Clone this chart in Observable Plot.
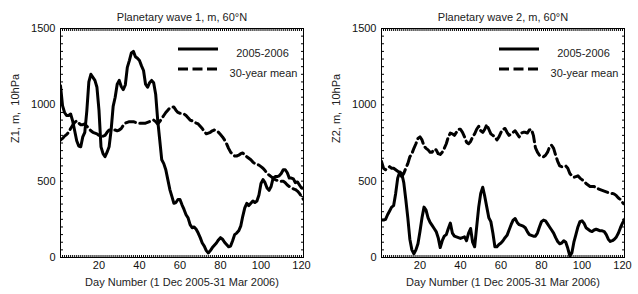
<!DOCTYPE html>
<html><head><meta charset="utf-8">
<script src="https://cdn.jsdelivr.net/npm/d3@7"></script>
<script src="https://cdn.jsdelivr.net/npm/@observablehq/plot@0.6"></script>
<style>
body{margin:0;background:#fff}
#row{display:flex;width:638px;height:294px;overflow:hidden}
</style>
</head><body><div id="row"></div>
<script>
// Day numbers 1 Dec 2005 (day 1) .. 31 Mar 2006 (day 121)
const days = d3.range(1, 122);

const wave1Actual = [
1125, 995, 950, 930, 930, 940, 895, 830, 765, 730,
725, 790, 820, 960, 1150, 1200, 1180, 1160, 1115, 965,
725, 680, 660, 690, 725, 835, 990, 1050, 1135, 1160,
1120, 1100, 1130, 1245, 1290, 1340, 1350, 1315, 1305, 1290,
1255, 1225, 1135, 1115, 1145, 1160, 1145, 1070, 900, 770,
640, 615, 575, 510, 445, 400, 355, 360, 380, 380,
345, 315, 280, 260, 215, 195, 200, 185, 160, 130,
95, 75, 45, 30, 45, 65, 80, 95, 115, 130,
120, 100, 85, 70, 75, 110, 150, 160, 175, 205,
270, 325, 355, 340, 355, 370, 360, 370, 410, 485,
510, 490, 455, 440, 465, 520, 530, 530, 535, 550,
575, 575, 555, 520, 520, 515, 490, 495, 475, 455,
455];

const wave1Mean = [
770, 780, 795, 805, 820, 845, 865, 885, 895, 880,
870, 870, 875, 860, 845, 830, 820, 815, 810, 800,
800, 795, 800, 820, 835, 835, 835, 835, 830, 835,
845, 865, 880, 885, 890, 890, 890, 885, 880, 880,
880, 880, 880, 885, 890, 895, 900, 890, 875, 890,
910, 930, 950, 965, 980, 985, 985, 965, 950, 945,
945, 940, 930, 915, 900, 895, 890, 880, 875, 860,
845, 825, 810, 815, 820, 830, 835, 830, 820, 805,
790, 770, 745, 715, 690, 675, 665, 665, 670, 680,
685, 670, 660, 650, 640, 625, 615, 610, 605, 595,
585, 570, 550, 540, 530, 520, 510, 505, 500, 500,
500, 490, 475, 465, 455, 450, 445, 435, 420, 400,
380];

const wave2Actual = [
245, 245, 250, 280, 305, 330, 340, 420, 520, 560,
550, 490, 380, 260, 120, 50, 25, 50, 90, 170,
260, 330, 310, 260, 230, 210, 190, 170, 130, 65,
110, 140, 150, 190, 225, 160, 140, 135, 130, 125,
130, 135, 110, 160, 190, 100, 70, 200, 330, 420,
460, 400, 330, 260, 235, 160, 70, 70, 85, 95,
110, 130, 145, 180, 215, 245, 255, 230, 215, 210,
205, 195, 170, 150, 145, 140, 140, 160, 200, 235,
245, 240, 220, 200, 180, 160, 130, 105, 90, 95,
110, 100, 60, 10, 30, 100, 150, 200, 235, 240,
225, 195, 185, 175, 170, 180, 185, 180, 175, 175,
170, 150, 120, 105, 110, 120, 135, 160, 195, 225,
250];

const wave2Mean = [
630, 585, 575, 585, 595, 585, 585, 575, 565, 550,
530, 550, 585, 615, 660, 680, 715, 745, 780, 790,
770, 730, 715, 705, 690, 690, 710, 705, 680, 675,
690, 715, 745, 790, 815, 810, 800, 820, 840, 840,
820, 790, 755, 745, 760, 790, 810, 840, 860, 830,
820, 840, 870, 840, 810, 800, 790, 770, 790, 820,
840, 845, 820, 800, 810, 820, 830, 810, 790, 815,
820, 820, 815, 835, 840, 800, 720, 690, 670, 660,
660, 670, 690, 725, 735, 715, 670, 630, 600, 595,
595, 600, 585, 550, 535, 525, 530, 535, 520, 510,
500, 485, 475, 465, 465, 465, 455, 450, 445, 440,
435, 430, 425, 420, 420, 415, 405, 390, 380, 360,
350];

const seriesNames = ["2005-2006", "30-year mean"];
const xTickLabels = [20, 40, 60, 80, 100, 120];
const yTickLabels = [0, 500, 1000, 1500];
const yMinorTicks = d3.range(0, 1501, 50);
const xLabel = "Day Number (1 Dec 2005-31 Mar 2006)";
const panelTitles = ["Planetary wave 1, m, 60°N", "Planetary wave 2, m, 60°N"];
const yLabels = ["Z1, m,\u00a0 10hPa", "Z2, m,\u00a0 10hPa"];

const FONT = "'Liberation Sans', Arial, Helvetica, sans-serif";
const W = 319, H = 294, MT = 28, MB = 37;

function panel(title, ylabel, actual, mean, marginLeft, marginRight) {
  const rows = days.map((d, i) => ({day: d, actual: actual[i], mean: mean[i]}));
  const svg = Plot.plot({
    width: W, height: H, marginTop: MT, marginBottom: MB, marginLeft, marginRight,
    x: {domain: [1, 121]},
    y: {domain: [0, 1500]},
    style: {fontFamily: FONT, fontSize: "11px", background: "#fff", color: "#000", overflow: "visible"},
    marks: [
      Plot.axisX({anchor: "bottom", ticks: days, tickSize: -2, fill: "none", label: null}),
      Plot.axisX({anchor: "top", ticks: days, tickSize: -2, fill: "none", label: null}),
      Plot.axisY({anchor: "left", ticks: yMinorTicks, tickSize: -3, fill: "none", label: null}),
      Plot.axisY({anchor: "right", ticks: yMinorTicks, tickSize: -3, fill: "none", label: null}),
      Plot.axisX({anchor: "bottom", ticks: xTickLabels, tickFormat: d3.format("d"), tickSize: 0, tickPadding: 4, label: null, fill: "#111"}),
      Plot.axisY({anchor: "left", ticks: yTickLabels, tickFormat: d3.format("d"), tickSize: 0, tickPadding: 5, label: null, fill: "#111"}),
      Plot.line(rows, {x: "day", y: "mean", stroke: "#000", strokeWidth: 3, strokeDasharray: "10,4.5", clip: true}),
      Plot.line(rows, {x: "day", y: "actual", stroke: "#000", strokeWidth: 3, strokeLinejoin: "round", clip: true}),
      Plot.frame({stroke: "#000", strokeWidth: 1}),
      Plot.text([title], {text: d => d, frameAnchor: "top", dy: -15, fill: "#222"}),
      Plot.text([ylabel], {text: d => d, frameAnchor: "left", dx: -45, rotate: -90, fill: "#222"}),
      Plot.text([xLabel], {text: d => d, frameAnchor: "bottom", dy: 28, fill: "#222"}),
      Plot.text([seriesNames[0]], {text: d => d, frameAnchor: "top-right", dx: -41, dy: 21, textAnchor: "middle", fill: "#222"}),
      Plot.text([seriesNames[1]], {text: d => d, frameAnchor: "top-right", dx: -40, dy: 41, textAnchor: "middle", fill: "#222"})
    ]
  });
  // legend line samples (decoration, pixel-placed relative to the frame)
  const s = d3.select(svg);
  const fx = W - marginRight, fy = MT;
  s.append("line").attr("x1", fx - 125).attr("x2", fx - 85).attr("y1", fy + 21).attr("y2", fy + 21)
    .attr("stroke", "#000").attr("stroke-width", 3);
  s.append("line").attr("x1", fx - 125).attr("x2", fx - 85).attr("y1", fy + 41).attr("y2", fy + 41)
    .attr("stroke", "#000").attr("stroke-width", 3).attr("stroke-dasharray", "10,4.5");
  return svg;
}

const row = document.getElementById("row");
row.appendChild(panel(panelTitles[0], yLabels[0], wave1Actual, wave1Mean, 60, 16));
row.appendChild(panel(panelTitles[1], yLabels[1], wave2Actual, wave2Mean, 62, 14));
</script>
</body></html>
